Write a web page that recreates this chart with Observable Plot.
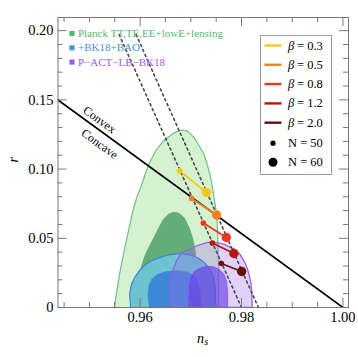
<!DOCTYPE html>
<html><head><meta charset="utf-8">
<script src="https://cdn.jsdelivr.net/npm/d3@7"></script>
<script src="https://cdn.jsdelivr.net/npm/@observablehq/plot@0.6"></script>
<style>body{margin:0;background:#fff}</style>
</head><body><div id="chart"></div>
<script>
// ---------- data ----------
const betaLabels = ["0.3", "0.5", "0.8", "1.2", "2.0"];
const nsN50 = [0.96779, 0.97016, 0.97247, 0.97424, 0.97602];
const rN50  = [0.0988, 0.0788, 0.0610, 0.0466, 0.0318];
const nsN60 = [0.97306, 0.97509, 0.97700, 0.97850, 0.98002];
const rN60  = [0.0832, 0.0668, 0.0506, 0.0390, 0.0260];

const planckOuter = [[0.95487,0],[0.95536,0.0106],[0.95582,0.0217],[0.95645,0.0338],[0.95714,0.0458],[0.95783,0.0576],[0.95858,0.0699],[0.95931,0.0793],[0.96010,0.0867],[0.96089,0.0952],[0.96174,0.1037],[0.96306,0.1133],[0.96469,0.1205],[0.96635,0.1253],[0.96740,0.1274],[0.96838,0.1281],[0.96937,0.1274],[0.97061,0.1229],[0.97154,0.1176],[0.97258,0.1109],[0.97331,0.1024],[0.97391,0.0940],[0.97430,0.0858],[0.97456,0.0795],[0.97489,0.0721],[0.97509,0.0663],[0.97529,0.0554],[0.97538,0.0410],[0.97548,0.0265],[0.97548,0]];
const planckInner = [[0.95921,0],[0.95941,0.0106],[0.95970,0.0193],[0.96030,0.0301],[0.96108,0.0386],[0.96207,0.0458],[0.96339,0.0554],[0.96464,0.0639],[0.96562,0.0674],[0.96661,0.0688],[0.96759,0.0681],[0.96868,0.0648],[0.96963,0.0578],[0.97026,0.0511],[0.97075,0.0432],[0.97105,0.0338],[0.97114,0.0193],[0.97114,0]];
const bkOuter = [[0.95813,0],[0.95793,0.0099],[0.95832,0.0171],[0.95892,0.0217],[0.95980,0.0265],[0.96075,0.0301],[0.96207,0.0334],[0.96365,0.0359],[0.96536,0.0379],[0.96700,0.0388],[0.96858,0.0388],[0.97016,0.0377],[0.97154,0.0356],[0.97272,0.0323],[0.97371,0.0280],[0.97440,0.0222],[0.97479,0.0142],[0.97489,0]];
const bkInner = [[0.96174,0],[0.96148,0.0085],[0.96168,0.0157],[0.96227,0.0207],[0.96339,0.0241],[0.96503,0.0262],[0.96734,0.0269],[0.96937,0.0258],[0.97075,0.0229],[0.97154,0.0179],[0.97193,0.0099],[0.97203,0]];
const actOuter = [[0.96635,0],[0.96615,0.0048],[0.96602,0.0169],[0.96621,0.0229],[0.96667,0.0289],[0.96730,0.0345],[0.96799,0.0386],[0.96897,0.0410],[0.96982,0.0422],[0.97114,0.0446],[0.97325,0.0470],[0.97489,0.0470],[0.97653,0.0458],[0.97850,0.0422],[0.97962,0.0388],[0.98047,0.0338],[0.98110,0.0287],[0.98146,0.0241],[0.98185,0.0179],[0.98199,0.0121],[0.98213,0]];
const actInner = [[0.96963,0],[0.96957,0.0085],[0.96966,0.0157],[0.96996,0.0215],[0.97065,0.0258],[0.97174,0.0283],[0.97312,0.0298],[0.97450,0.0294],[0.97568,0.0272],[0.97653,0.0241],[0.97706,0.0186],[0.97726,0.0106],[0.97726,0]];

const dashN50 = [[0.95586, 0.1971], [0.98000, 0]];
const dashN60 = [[0.95921, 0.1971], [0.98333, 0]];
const boundary = [[0.9438, 0.1499], [1.0, 0]];
const regionLabels = ["Convex", "Concave"];
const regionNs = [0.95201, 0.95201];
const regionR = [0.1355, 0.1182];

const datasetLabels = ["Planck TT,TE,EE+lowE+lensing", "+BK18+BAO", "P\u2212ACT\u2212LB\u2212BK18"];
const nLabels = ["N = 50", "N = 60"];
const xTickMajor = [0.96, 0.98, 1.00];
const xTickLabels = ["0.96", "0.98", "1.00"];
const xTickMinor = [0.945, 0.95, 0.955, 0.965, 0.97, 0.975, 0.985, 0.99, 0.995];
const yTickMajor = [0, 0.05, 0.10, 0.15, 0.20];
const yTickLabels = ["0", "0.05", "0.10", "0.15", "0.20"];
const yTickMinor = [0.01,0.02,0.03,0.04,0.06,0.07,0.08,0.09,0.11,0.12,0.13,0.14,0.16,0.17,0.18,0.19];

// ---------- style ----------
const betaColors = ["#f7c815", "#f7821b", "#f5361b", "#b5170d", "#6a0f06"];
const dsColors = ["#55b96a", "#4a8fe0", "#9a5cf0"];
const FONT = "Liberation Serif, Times New Roman, serif";
const W = 358, H = 357, mL = 57.5, mR = 10, mT = 17, mB = 50;
const fW = W - mL - mR, fH = H - mT - mB;
const axisColor = "#777";

const idx = betaLabels.map((_, i) => i);
const poly = (pts, o) => Plot.line(pts.concat([pts[0]]), {x: d => d[0], y: d => d[1], curve: "linear", clip: true, ...o});
const dashStyle = {stroke: "#4a4a4a", strokeWidth: 1.6, strokeDasharray: "2.2,3.2", clip: true};

const marks = [
  poly(planckOuter, {fill: "#d5f2d0", stroke: "#72bf88", strokeWidth: 1.2}),
  poly(planckInner, {fill: "#63ad79", stroke: "#5aa570", strokeWidth: 0.8}),
  poly(bkOuter, {fill: "#6cc3cf", stroke: "#3d80e3", strokeWidth: 1.2}),
  poly(bkInner, {fill: "#3f88d9", stroke: "none"}),
  poly(actOuter, {fill: "#a066f0", fillOpacity: 0.3, stroke: "#9a5cf0", strokeWidth: 1.3}),
  poly(actInner, {fill: "#6a3fe6", fillOpacity: 0.65, stroke: "#8050ea", strokeWidth: 0.8}),
  Plot.line(dashN50, {x: d => d[0], y: d => d[1], ...dashStyle}),
  Plot.line(dashN60, {x: d => d[0], y: d => d[1], ...dashStyle}),
  Plot.line(boundary, {x: d => d[0], y: d => d[1], stroke: "black", strokeWidth: 1.6, clip: true}),
  Plot.text(regionLabels, {x: (d, i) => regionNs[i], y: (d, i) => regionR[i], text: d => d, rotate: 36, fontSize: 12, fontFamily: FONT, fill: "black", lineAnchor: "middle"}),
  Plot.link(idx, {x1: i => nsN50[i], y1: i => rN50[i], x2: i => nsN60[i], y2: i => rN60[i], stroke: i => betaColors[i], strokeWidth: 1.8}),
  Plot.dot(idx, {x: i => nsN50[i], y: i => rN50[i], r: 2.8, fill: i => betaColors[i], stroke: "none"}),
  Plot.dot(idx, {x: i => nsN60[i], y: i => rN60[i], r: 4.7, fill: i => betaColors[i], stroke: "none"}),
  // frame & ticks
  Plot.frame({stroke: axisColor, strokeWidth: 1}),
  Plot.ruleX(xTickMajor, {x: d => d, insetTop: fH - 9, stroke: axisColor}),
  Plot.ruleX(xTickMinor, {x: d => d, insetTop: fH - 5, stroke: axisColor}),
  Plot.ruleX(xTickMajor, {x: d => d, insetBottom: fH - 9, stroke: axisColor}),
  Plot.ruleX(xTickMinor, {x: d => d, insetBottom: fH - 5, stroke: axisColor}),
  Plot.ruleY(yTickMajor, {y: d => d, insetRight: fW - 9, stroke: axisColor}),
  Plot.ruleY(yTickMinor, {y: d => d, insetRight: fW - 5, stroke: axisColor}),
  Plot.ruleY(yTickMajor, {y: d => d, insetLeft: fW - 9, stroke: axisColor}),
  Plot.ruleY(yTickMinor, {y: d => d, insetLeft: fW - 5, stroke: axisColor}),
  Plot.text(xTickMajor, {x: d => d, frameAnchor: "bottom", dy: 10, lineAnchor: "middle", text: (d, i) => xTickLabels[i], fontSize: 14.5, fontFamily: FONT, fill: "black"}),
  Plot.text(yTickMajor, {y: d => d, frameAnchor: "left", dx: -4.5, textAnchor: "end", lineAnchor: "middle", text: (d, i) => yTickLabels[i], fontSize: 14.5, fontFamily: FONT, fill: "black"}),
  // axis labels
  Plot.text(["r"], {frameAnchor: "left", dx: -44, rotate: -90, text: d => d, fontSize: 14, fontStyle: "italic", fontFamily: FONT, fill: "black", lineAnchor: "middle"}),
  Plot.text(["n"], {frameAnchor: "bottom", dx: -2.8, dy: 31, text: d => d, fontSize: 14, fontStyle: "italic", fontFamily: FONT, fill: "black", lineAnchor: "middle"}),
  Plot.text(["s"], {frameAnchor: "bottom", dx: 3, dy: 34.5, text: d => d, fontSize: 10, fontStyle: "italic", fontFamily: FONT, fill: "black", lineAnchor: "middle"}),
  // right legend box
  Plot.frame({insetLeft: 202.5, insetRight: 17, insetTop: 18, insetBottom: 133, fill: "white", stroke: "#999", strokeWidth: 1})
];

// dataset legend (top-left)
datasetLabels.forEach((lab, i) => {
  const dy = 16 + i * 14.3;
  marks.push(Plot.dot([lab], {frameAnchor: "top-left", dx: 14, dy, symbol: "square", r: 2.9, fill: dsColors[i], stroke: "none"}));
  marks.push(Plot.text([lab], {frameAnchor: "top-left", dx: 20, dy, text: d => d, textAnchor: "start", lineAnchor: "middle", fontSize: 11, fontFamily: FONT, fill: dsColors[i]}));
});

// beta legend
betaLabels.forEach((lab, i) => {
  const yc = 28 + i * 19.3; // relative to frame top
  marks.push(Plot.frame({insetLeft: 206.5, insetRight: 67, insetTop: yc - 1.2, insetBottom: fH - yc - 1.2, fill: betaColors[i], stroke: "none"}));
  marks.push(Plot.text(["\u03b2"], {frameAnchor: "top-left", dx: 230, dy: yc, text: d => d, textAnchor: "start", lineAnchor: "middle", fontSize: 12.5, fontStyle: "italic", fontFamily: FONT, fill: "black"}));
  marks.push(Plot.text([lab], {frameAnchor: "top-left", dx: 239, dy: yc, text: d => "= " + d, textAnchor: "start", lineAnchor: "middle", fontSize: 12.5, fontFamily: FONT, fill: "black"}));
});
nLabels.forEach((lab, i) => {
  const yc = 125.7 + i * 19;
  marks.push(Plot.dot([lab], {frameAnchor: "top-left", dx: 215, dy: yc, r: i === 0 ? 2.6 : 4.5, fill: "black", stroke: "none"}));
  marks.push(Plot.text([lab], {frameAnchor: "top-left", dx: 230, dy: yc, text: d => d, textAnchor: "start", lineAnchor: "middle", fontSize: 12.5, fontFamily: FONT, fill: "black"}));
});

const chart = Plot.plot({
  width: W, height: H,
  marginLeft: mL, marginRight: mR, marginTop: mT, marginBottom: mB,
  x: {domain: [0.9438, 1.0011], axis: null},
  y: {domain: [0, 0.2095], axis: null},
  color: {type: "identity"},
  style: {background: "white", fontFamily: FONT},
  marks
});
document.getElementById("chart").appendChild(chart);
</script>
</body></html>
